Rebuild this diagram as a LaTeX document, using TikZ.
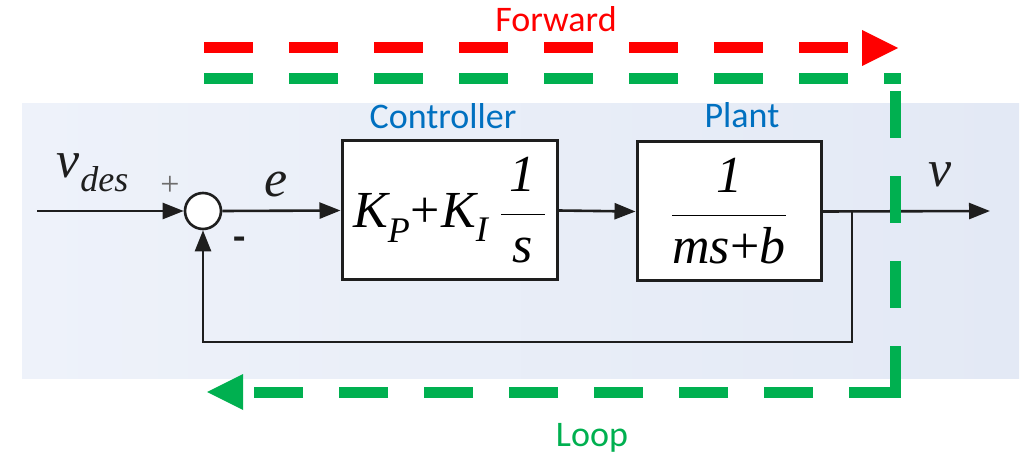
\RequirePackage{fix-cm}
\documentclass[tikz,border=0pt]{standalone}
\usepackage{fontspec}
\usepackage{amsmath}
\setmainfont{Carlito}
\newfontfamily\tnr{Liberation Serif}
\usetikzlibrary{arrows.meta}
\newcommand\mi[1]{\text{\tnr\itshape #1}}
% lowered italic subscript, as in K_P
\newcommand\lowsub[2]{\raisebox{-#1}{\tnr\itshape\fontsize{36}{40}\selectfont #2}}
\definecolor{fwdred}{HTML}{FF0000}
\definecolor{loopgreen}{HTML}{00B050}
\definecolor{labelblue}{HTML}{0070C0}
\definecolor{panelL}{HTML}{EEF2FA}
\definecolor{panelR}{HTML}{E3E9F5}
\definecolor{ink}{HTML}{1E1E1E}
\tikzset{
  blockbox/.style={draw=ink, line width=3pt, fill=white, inner sep=0pt,
    font=\fontsize{52}{60}\selectfont},
  sumjunction/.style={circle, draw=ink, line width=2.6pt, fill=white,
    minimum size=36pt, inner sep=0pt},
  sig/.style={draw=ink, line width=2.6pt},
  sigarrow/.style={sig, -{Triangle[length=21pt,width=16pt]}},
  caption/.style={font=\fontsize{36}{40}\selectfont, anchor=base, inner sep=0pt},
  mathlabel/.style={font=\fontsize{52}{60}\selectfont, inner sep=0pt, text=ink},
  pathmark/.style={line width=11pt, dash pattern=on 49pt off 36pt},
  bigtip/.style={-{Triangle[length=36pt,width=36pt,line width=0pt]}}
}
\begin{document}
\begin{tikzpicture}[x=1pt,y=-1pt]
\useasboundingbox (0,0) rectangle (1025,454);
\fill[white] (0,0) rectangle (1025,454);

% panel behind the block diagram
\shade[left color=panelL, right color=panelR] (22,104) rectangle (1019,378);

% blocks
\node[blockbox, minimum width=215pt, minimum height=139pt] (ctrl) at (449.5,210.5)
  {{\tnr\itshape K\lowsub{15pt}{P}\kern1pt{\upshape+}\kern1pt K\lowsub{14pt}{I}}\kern12pt$\dfrac{\,\mi{1}\,}{\,\mi{s}\,}$};
\node[blockbox, minimum width=184pt, minimum height=139pt] (plant) at (729,211.5)
  {$\dfrac{\mi{1}}{\mi{ms}\text{\tnr+}\mi{b}}$};
\node[sumjunction] (sum) at (203,211) {};

\coordinate (in) at (37,211);
\coordinate (branch) at (852,211);
\coordinate (out) at (990,211);
\coordinate (fb) at (852,342);

% signal flow
\draw[sigarrow] (in) -- (sum.west);
\draw[sigarrow] (sum.east) -- (ctrl.west);
\draw[sigarrow] (ctrl.east) -- (plant.west);
\draw[sigarrow] (plant.east) -- (out);
\draw[sigarrow] (branch) -- (fb) -| (sum.south);

% signal labels
\node[mathlabel, anchor=base west] (vdes) at (56,178) {{\tnr\itshape v\kern1pt\lowsub{14pt}{des}}};
\node[inner sep=0pt, text=ink!65, font=\tnr\fontsize{34}{38}\selectfont] (plus) at (170,186) {+};
\node[inner sep=0pt, text=ink, font=\bfseries\fontsize{40}{44}\selectfont] (minus) at (240,244) {-};
\node[mathlabel, anchor=base] (e) at (276,197) {$\mi{e}$};
\node[mathlabel, anchor=base] (v) at (940,187) {$\mi{v}$};

% captions
\node[caption, text=labelblue] (ctrlcap) at (443,129) {Controller};
\node[caption, text=labelblue] (plantcap) at (742,128) {Plant};
\node[caption, text=fwdred] (fwdcap) at (556,32) {Forward};
\node[caption, text=loopgreen] (loopcap) at (592,446) {Loop};

% forward path
\coordinate (fwdA) at (204,48);
\coordinate (fwdB) at (898,48);
\draw[pathmark, fwdred, bigtip] (fwdA) -- (fwdB);

% loop path
\coordinate (lpA) at (204,79);
\coordinate (lpB) at (901,79);
\coordinate (lpC) at (895,91);
\coordinate (lpD) at (895,346);
\coordinate (lpE) at (895,392);
\coordinate (lpF) at (849,392);
\coordinate (lpG) at (813,392);
\coordinate (lpH) at (207,392);
\draw[pathmark, loopgreen] (lpA) -- (lpB);
\draw[pathmark, loopgreen, dash pattern=on 47pt off 38pt] (lpC) -- (lpD);
\draw[line width=11pt, loopgreen, line join=miter] (lpD) -- (lpE) -- (lpF);
\draw[pathmark, loopgreen, bigtip] (lpG) -- (lpH);
\end{tikzpicture}
\end{document}
